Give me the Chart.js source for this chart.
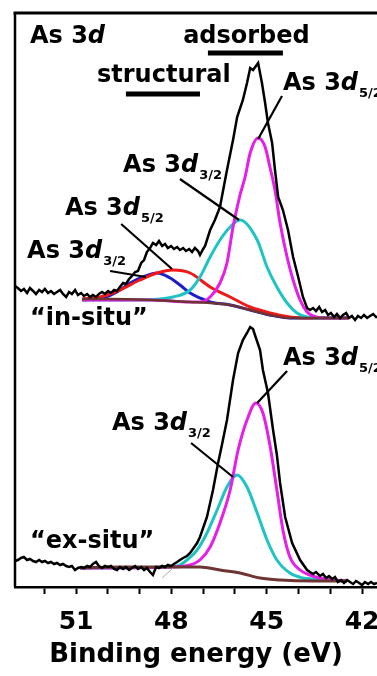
<!DOCTYPE html>
<html>
<head>
<meta charset="utf-8">
<script src="https://cdn.jsdelivr.net/npm/chart.js@4.4.1/dist/chart.umd.min.js"></script>
<style>
  html, body { margin: 0; padding: 0; background: #fff; }
  #chart { display: block; }
</style>
</head>
<body>
<canvas id="chart" width="377" height="676"></canvas>
<script>
// Binding energy axis (eV), drawn reversed
const xMin = 41.53, xMax = 52.92;
const tickValues = [42, 43, 44, 45, 46, 47, 48, 49, 50, 51, 52];
const tickLabels = [51, 48, 45, 42];

// "in-situ" spectrum (upper trace), intensity in arbitrary units
const inSituE = [52.92, 52.83, 52.73, 52.64, 52.54, 52.45, 52.35, 52.26, 52.16, 52.07, 51.98, 51.88, 51.79, 51.69, 51.60, 51.50, 51.41, 51.31, 51.22, 51.13, 51.03, 50.94, 50.84, 50.75, 50.65, 50.56, 50.47, 50.37, 50.28, 50.18, 50.09, 49.99, 49.90, 49.80, 49.71, 49.62, 49.52, 49.43, 49.33, 49.24, 49.14, 49.05, 48.95, 48.86, 48.77, 48.67, 48.58, 48.48, 48.39, 48.29, 48.20, 48.11, 48.01, 47.92, 47.82, 47.73, 47.63, 47.54, 47.44, 47.35, 47.26, 47.16, 47.10, 47.00, 46.94, 46.88, 46.78, 46.63, 46.47, 46.37, 46.25, 46.06, 45.93, 45.75, 45.62, 45.52, 45.43, 45.27, 45.15, 45.05, 44.96, 44.83, 44.74, 44.64, 44.49, 44.33, 44.17, 44.01, 43.86, 43.73, 43.64, 43.54, 43.45, 43.35, 43.26, 43.16, 43.07, 42.98, 42.88, 42.79, 42.69, 42.60, 42.50, 42.41, 42.32, 42.22, 42.13, 42.03, 41.94, 41.84, 41.75, 41.65, 41.56, 41.53];
const inSituI = [301, 299, 296, 298, 294, 299, 296, 293, 297, 295, 298, 294, 296, 293, 295, 297, 293, 290, 295, 293, 297, 292, 294, 291, 293, 290, 292, 290, 293, 295, 293, 296, 294, 297, 296, 300, 304, 303, 308, 311, 315, 316, 324, 327, 335, 339, 344, 342, 346, 341, 343, 339, 341, 338, 340, 337, 339, 336, 338, 335, 339, 336, 332, 338, 341, 347, 357, 367, 380, 397, 417, 447, 470, 487, 504, 519, 517, 524, 504, 484, 464, 444, 417, 390, 377, 357, 330, 310, 290, 279, 277, 279, 276, 280, 275, 277, 272, 274, 270, 273, 269, 272, 274, 269, 271, 267, 271, 269, 272, 269, 271, 273, 270, 271];

// "in-situ" fit: background and components (each on the background)
const inSituBgE = [50.81, 49.93, 48.67, 47.41, 46.78, 46.15, 45.52, 44.90, 44.27, 43.23, 42.44];
const inSituBgI = [288, 288, 287, 285, 284, 282, 277, 272, 269, 269, 269];
const inSituBlueE = [50.81, 50.15, 49.71, 49.30, 48.89, 48.45, 48.04, 47.73, 47.41, 47.10, 46.78, 46.15, 45.52, 44.90, 44.27, 43.23, 42.44];
const inSituBlueI = [287, 289, 295, 304, 310, 314, 309, 302, 294, 289, 285, 282, 277, 272, 269, 269, 269];
const inSituRedE = [50.81, 50.24, 49.62, 48.99, 48.45, 47.95, 47.41, 46.78, 46.15, 45.52, 44.90, 44.27, 43.64, 42.44];
const inSituRedI = [288, 290, 297, 307, 314, 317, 314, 300, 290, 280, 274, 270, 269, 269];
const inSituCyanE = [50.81, 49.30, 48.36, 47.95, 47.41, 47.10, 46.78, 46.47, 46.15, 45.84, 45.30, 44.99, 44.68, 44.36, 44.05, 43.73, 43.23, 42.44];
const inSituCyanI = [287, 287, 288, 290, 297, 310, 330, 347, 360, 367, 347, 320, 300, 284, 274, 270, 269, 269];
const inSituMagE = [50.81, 48.67, 47.41, 47.10, 46.78, 46.47, 46.25, 46.06, 45.84, 45.68, 45.52, 45.27, 45.05, 44.90, 44.74, 44.58, 44.36, 44.17, 43.95, 43.73, 43.54, 43.23, 42.44];
const inSituMagI = [287, 287, 285, 285, 290, 304, 324, 360, 392, 410, 434, 449, 440, 420, 397, 364, 330, 307, 287, 275, 271, 269, 269];

// "ex-situ" spectrum (lower trace)
const exSituE = [52.92, 52.83, 52.73, 52.64, 52.54, 52.45, 52.35, 52.26, 52.16, 52.07, 51.98, 51.88, 51.79, 51.69, 51.60, 51.50, 51.41, 51.31, 51.22, 51.13, 51.03, 50.94, 50.84, 50.75, 50.65, 50.56, 50.47, 50.37, 50.28, 50.18, 50.09, 49.99, 49.90, 49.80, 49.71, 49.62, 49.52, 49.43, 49.33, 49.24, 49.14, 49.05, 48.95, 48.86, 48.77, 48.67, 48.58, 48.48, 48.39, 48.29, 48.20, 48.11, 48.01, 47.92, 47.82, 47.73, 47.63, 47.51, 47.41, 47.19, 47.10, 46.88, 46.69, 46.53, 46.41, 46.25, 46.06, 45.90, 45.75, 45.62, 45.52, 45.43, 45.37, 45.21, 45.12, 44.96, 44.80, 44.68, 44.58, 44.42, 44.20, 43.95, 43.73, 43.64, 43.54, 43.45, 43.32, 43.23, 43.13, 43.04, 42.94, 42.85, 42.76, 42.66, 42.57, 42.47, 42.38, 42.28, 42.19, 42.09, 42.00, 41.91, 41.81, 41.72, 41.62, 41.53];
const exSituI = [26, 27, 29, 30, 27, 28, 26, 25, 27, 25, 26, 24, 25, 23, 24, 22, 23, 21, 20, 21, 17, 19, 20, 19, 21, 20, 23, 25, 21, 19, 21, 20, 21, 18, 17, 20, 18, 20, 17, 19, 21, 18, 20, 17, 19, 15, 12, 20, 19, 21, 20, 22, 21, 23, 25, 27, 29, 31, 34, 44, 50, 70, 97, 124, 142, 167, 207, 234, 247, 254, 260, 258, 252, 237, 217, 194, 157, 132, 104, 70, 44, 27, 17, 15, 13, 15, 11, 13, 9, 11, 8, 10, 5, 7, 4, 7, 5, 3, 6, 4, 2, 5, 3, 5, 3, 4];

// "ex-situ" fit
const exSituBgE = [50.87, 49.62, 47.73, 47.10, 46.47, 45.84, 45.21, 44.58, 43.54, 42.47];
const exSituBgI = [19, 20, 20, 20, 17, 14, 9, 7, 6, 6];
const exSituMagE = [50.87, 48.04, 47.41, 47.10, 46.78, 46.47, 46.15, 45.90, 45.62, 45.34, 45.12, 44.90, 44.68, 44.49, 44.27, 43.95, 43.64, 43.32, 42.47];
const exSituMagI = [19, 20, 22, 27, 40, 64, 97, 137, 167, 184, 174, 142, 97, 57, 30, 17, 12, 9, 6];
const exSituCyanE = [50.87, 48.04, 47.73, 47.51, 47.19, 46.88, 46.56, 46.25, 45.93, 45.62, 45.30, 44.99, 44.68, 44.27, 43.86, 43.54, 42.47];
const exSituCyanI = [19, 20, 22, 27, 37, 54, 77, 100, 112, 100, 74, 47, 27, 14, 9, 8, 6];

const FONT = '"DejaVu Sans", "Liberation Sans", Arial, sans-serif';

const pts = (es, is) => es.map((e, k) => ({ x: e, y: is[k] }));

const curve = (es, is, color, width) => ({
  data: pts(es, is),
  borderColor: color,
  borderWidth: width,
  pointRadius: 0,
  fill: false,
  cubicInterpolationMode: 'monotone'
});

const raw = (es, is) => ({
  data: pts(es, is),
  borderColor: '#000',
  borderWidth: 2.5,
  pointRadius: 0,
  fill: false,
  tension: 0
});

// Annotations (positions in data units)
const labels = [
  { pre: 'As 3', it: 'd', sub: '', e: 52.45, i: 544 },
  { pre: 'adsorbed', e: 47.63, i: 544 },
  { pre: 'structural', e: 50.34, i: 505 },
  { pre: 'As 3', it: 'd', sub: '5/2', e: 44.49, i: 497 },
  { pre: 'As 3', it: 'd', sub: '3/2', e: 49.52, i: 415 },
  { pre: 'As 3', it: 'd', sub: '5/2', e: 51.35, i: 372 },
  { pre: 'As 3', it: 'd', sub: '3/2', e: 52.54, i: 329 },
  { pre: '\u201cin-situ\u201d', e: 52.45, i: 262 },
  { pre: 'As 3', it: 'd', sub: '5/2', e: 44.49, i: 222 },
  { pre: 'As 3', it: 'd', sub: '3/2', e: 49.87, i: 157 },
  { pre: '\u201cex-situ\u201d', e: 52.45, i: 39 }
];
const bars = [
  { e1: 46.85, e2: 44.49, i: 534 },
  { e1: 49.43, e2: 47.10, i: 493 }
];
const leaders = [
  { e1: 44.52, i1: 491, e2: 45.27, i2: 448 },
  { e1: 47.73, i1: 408, e2: 45.87, i2: 367 },
  { e1: 49.58, i1: 363, e2: 47.98, i2: 318 },
  { e1: 49.93, i1: 316, e2: 48.80, i2: 310 },
  { e1: 44.36, i1: 216, e2: 45.30, i2: 184 },
  { e1: 47.38, i1: 144, e2: 46.06, i2: 110 }
];

const decorations = {
  id: 'decorations',
  afterDatasetsDraw(chart) {
    const { ctx, chartArea: a, scales: { x, y } } = chart;
    ctx.save();
    ctx.strokeStyle = '#000';
    ctx.lineCap = 'butt';
    // frame: top and left
    ctx.lineWidth = 3;
    ctx.beginPath();
    ctx.moveTo(a.left - 1.5, a.top);
    ctx.lineTo(a.right, a.top);
    ctx.stroke();
    ctx.lineWidth = 2.5;
    ctx.beginPath();
    ctx.moveTo(a.left, a.top);
    ctx.lineTo(a.left, a.bottom);
    ctx.stroke();

    // faint grey tick in lower trace
    ctx.strokeStyle = '#aaa';
    ctx.lineWidth = 1;
    ctx.beginPath();
    ctx.moveTo(x.getPixelForValue(48.29), y.getPixelForValue(9));
    ctx.lineTo(x.getPixelForValue(47.95), y.getPixelForValue(19));
    ctx.stroke();

    // leader lines
    ctx.strokeStyle = '#000';
    ctx.lineWidth = 2.2;
    leaders.forEach(l => {
      ctx.beginPath();
      ctx.moveTo(x.getPixelForValue(l.e1), y.getPixelForValue(l.i1));
      ctx.lineTo(x.getPixelForValue(l.e2), y.getPixelForValue(l.i2));
      ctx.stroke();
    });

    // underline bars
    ctx.lineWidth = 5;
    bars.forEach(b => {
      ctx.beginPath();
      ctx.moveTo(x.getPixelForValue(b.e1), y.getPixelForValue(b.i));
      ctx.lineTo(x.getPixelForValue(b.e2), y.getPixelForValue(b.i));
      ctx.stroke();
    });

    // text labels
    ctx.fillStyle = '#000';
    ctx.textBaseline = 'alphabetic';
    ctx.textAlign = 'left';
    labels.forEach(t => {
      let px = x.getPixelForValue(t.e);
      const py = y.getPixelForValue(t.i);
      ctx.font = 'bold 24px ' + FONT;
      ctx.fillText(t.pre, px, py);
      px += ctx.measureText(t.pre).width;
      if (t.it) {
        ctx.font = 'italic bold 24px ' + FONT;
        ctx.fillText(t.it, px, py);
        px += ctx.measureText(t.it).width + 1;
      }
      if (t.sub) {
        ctx.font = 'bold 13px ' + FONT;
        ctx.fillText(t.sub, px, py + 7);
      }
    });
    ctx.restore();
  }
};

new Chart(document.getElementById('chart'), {
  type: 'line',
  data: {
    datasets: [
      raw(inSituE, inSituI),
      raw(exSituE, exSituI),
      curve(inSituBgE, inSituBgI, '#6e3434', 2.5),
      curve(inSituMagE, inSituMagI, '#e61ee6', 3),
      curve(inSituCyanE, inSituCyanI, '#1ec4c4', 3),
      curve(inSituRedE, inSituRedI, '#f01818', 3),
      curve(inSituBlueE, inSituBlueI, '#1c1ccc', 3),
      curve(exSituBgE, exSituBgI, '#6e3434', 3),
      curve(exSituMagE, exSituMagI, '#e61ee6', 3),
      curve(exSituCyanE, exSituCyanI, '#1ec4c4', 3)
    ]
  },
  options: {
    responsive: false,
    animation: false,
    devicePixelRatio: 1,
    layout: { autoPadding: false, padding: { left: 15, top: 13, right: 0, bottom: 3 } },
    plugins: { legend: { display: false }, tooltip: { enabled: false } },
    scales: {
      x: {
        type: 'linear',
        reverse: true,
        min: xMin,
        max: xMax,
        afterBuildTicks: s => { s.ticks = tickValues.map(v => ({ value: v })); },
        border: { display: true, color: '#000', width: 2.5 },
        grid: { drawOnChartArea: false, drawTicks: true, tickLength: 7, tickWidth: 2, tickColor: '#000' },
        ticks: {
          padding: 13,
          color: '#000',
          font: { family: FONT, size: 25, weight: 'bold', lineHeight: 1.2 },
          maxRotation: 0,
          autoSkip: false,
          callback: v => tickLabels.includes(v) ? String(v) : ''
        },
        title: {
          display: true,
          text: 'Binding energy (eV)',
          color: '#000',
          font: { family: FONT, size: 26, weight: 'bold', lineHeight: 0.4 },
          padding: { top: 0, bottom: 12.6 }
        }
      },
      y: { display: false, min: 0, max: 574 }
    }
  },
  plugins: [decorations]
});
</script>
</body>
</html>
